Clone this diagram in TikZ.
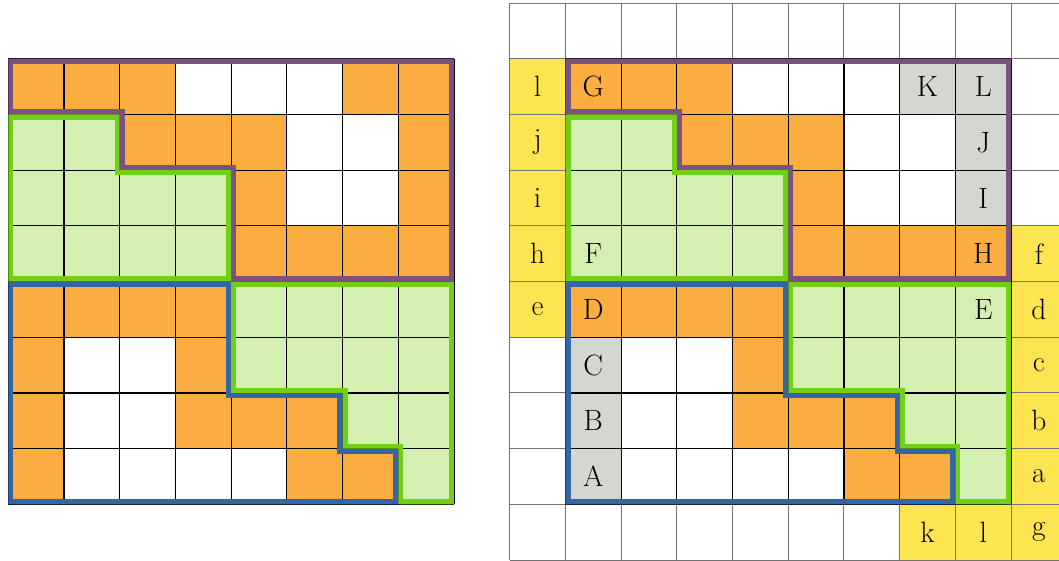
\documentclass[tikz,border=0pt]{standalone}
\usetikzlibrary{positioning}

\definecolor{cello}{RGB}{251,173,64}
\definecolor{cellg}{RGB}{212,240,176}
\definecolor{cellw}{RGB}{255,255,255}
\definecolor{cells}{RGB}{212,214,208}
\definecolor{celly}{RGB}{253,229,82}
\definecolor{linegreen}{RGB}{114,206,22}
\definecolor{linepurple}{RGB}{122,82,128}
\definecolor{lineblue}{RGB}{52,101,166}

% border drawn on the inner side of a region only
\newcommand{\regionline}[2]{%
  \begin{scope}
    \clip #2;
    \draw[#1] #2;
  \end{scope}}

\begin{document}
\begin{tikzpicture}[
  x=1cm,y=1cm,
  gridblack/.style={draw=black,line width=0.6pt},
  gridgray/.style={draw=black!55,line width=0.5pt},
  edge/.style={line width=5.2pt,line join=miter},
  lab/.style={font=\fontsize{15}{18}\selectfont,inner sep=0pt}
]
\useasboundingbox (-0.149,-0.998) rectangle (18.86,9.054);

% left board
\foreach \row [count=\r] in {{o,o,o,w,w,w,o,o},{g,g,o,o,o,w,w,o},{g,g,g,g,o,w,w,o},{g,g,g,g,o,o,o,o},
                             {o,o,o,o,g,g,g,g},{o,w,w,o,g,g,g,g},{o,w,w,o,o,o,g,g},{o,w,w,w,w,o,o,g}}
  \foreach \k [count=\c] in \row
    \fill[fill=cell\k] (\c-1,8-\r) rectangle ++(1,1);
\draw[gridblack] (0,0) grid (8,8);

% right board, with the outer ring
\foreach \row [count=\r] in {{w,w,w,w,w,w,w,w,w,w},{y,o,o,o,w,w,w,s,s,w},{y,g,g,o,o,o,w,w,s,w},
                             {y,g,g,g,g,o,w,w,s,w},{y,g,g,g,g,o,o,o,o,y},{y,o,o,o,o,g,g,g,g,y},
                             {w,s,w,w,o,g,g,g,g,y},{w,s,w,w,o,o,o,g,g,y},{w,s,w,w,w,w,o,o,g,y},
                             {w,w,w,w,w,w,w,y,y,y}}
  \foreach \k [count=\c] in \row
    \fill[fill=cell\k] (8+\c,9-\r) rectangle ++(1,1);
\draw[gridgray] (9,-1) grid (19,9);
\draw[gridblack] (10,0) grid (18,8);

% the four pieces on both boards
\foreach \dx in {0,10}{
  \begin{scope}[xshift=\dx cm]
    \regionline{edge,linepurple}{(0,8) -- (8,8) -- (8,4) -- (4,4) -- (4,6) -- (2,6) -- (2,7) -- (0,7) -- cycle}
    \regionline{edge,linegreen}{(0,7) -- (2,7) -- (2,6) -- (4,6) -- (4,4) -- (0,4) -- cycle}
    \regionline{edge,lineblue}{(0,4) -- (4,4) -- (4,2) -- (6,2) -- (6,1) -- (7,1) -- (7,0) -- (0,0) -- cycle}
    \regionline{edge,linegreen}{(4,4) -- (8,4) -- (8,0) -- (7,0) -- (7,1) -- (6,1) -- (6,2) -- (4,2) -- cycle}
  \end{scope}
}

% letters
\foreach \txt/\x/\y [count=\n] in {G/10.5/7.5,K/16.5/7.5,L/17.5/7.5,J/17.5/6.5,I/17.5/5.5,
    F/10.5/4.5,H/17.5/4.5,D/10.5/3.5,E/17.5/3.5,C/10.5/2.5,B/10.5/1.5,A/10.5/0.5,
    l/9.5/7.5,j/9.5/6.5,i/9.5/5.5,h/9.5/4.5,e/9.5/3.5,
    f/18.5/4.5,d/18.5/3.5,c/18.5/2.5,b/18.5/1.5,a/18.5/0.5,
    k/16.5/-0.5,l/17.5/-0.5,g/18.5/-0.5}
  \node[lab] (lab\n) at (\x,\y) {\txt};
\end{tikzpicture}
\end{document}
